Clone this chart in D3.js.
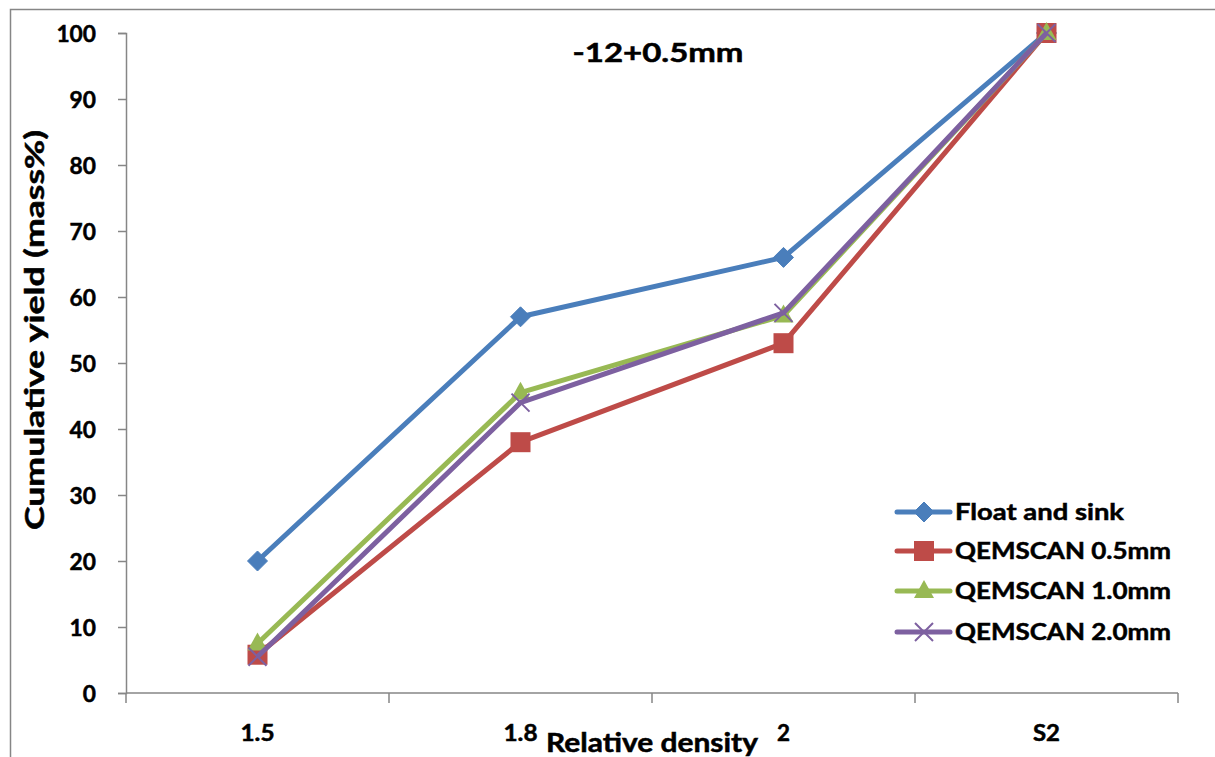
<!DOCTYPE html>
<html>
<head>
<meta charset="utf-8">
<script src="https://cdn.jsdelivr.net/npm/d3@7"></script>
<style>
  html, body { margin: 0; padding: 0; background: #fff; }
  svg { display: block; }
  text { font-family: Lato, "Open Sans", "DejaVu Sans", sans-serif; font-weight: bold; fill: #000; stroke: #000; stroke-width: 0.5px; }
</style>
</head>
<body>
<svg id="chart" width="1215" height="757"></svg>
<script>
// Relative density classes (x categories)
const categories = ["1.5", "1.8", "2", "S2"];

// Cumulative yield (mass%) per series
const floatSink  = [20, 57, 66, 100];
const qem05      = [5.8, 38, 53, 100];
const qem10      = [7.5, 45.5, 57.2, 100];
const qem20      = [5.5, 44, 57.6, 100];

const seriesNames = ["Float and sink", "QEMSCAN 0.5mm", "QEMSCAN 1.0mm", "QEMSCAN 2.0mm"];
const yTicks = [0, 10, 20, 30, 40, 50, 60, 70, 80, 90, 100];

const chartTitle = "-12+0.5mm";
const xTitle = "Relative density";
const yTitle = "Cumulative yield (mass%)";

const series = [
  { name: seriesNames[0], values: floatSink, color: "#4A7EBB", marker: "diamond" },
  { name: seriesNames[1], values: qem05,     color: "#BE4B48", marker: "square" },
  { name: seriesNames[2], values: qem10,     color: "#98B954", marker: "triangle" },
  { name: seriesNames[3], values: qem20,     color: "#7D60A0", marker: "cross" }
];

const svg = d3.select("#chart");
const axisColor = "#868686";

// outer chart-area border (extends past the right and bottom edges)
svg.append("rect")
  .attr("x", 10.5).attr("y", 9.5)
  .attr("width", 1240).attr("height", 780)
  .attr("fill", "none").attr("stroke", axisColor).attr("stroke-width", 1.5);

const plot = { left: 126, right: 1178, top: 33, bottom: 693 };

const x = d3.scaleBand().domain(categories).range([plot.left, plot.right]);
const y = d3.scaleLinear().domain([0, 100]).range([plot.bottom, plot.top]);

// stretch a text element to a given rendered width
function fitWidth(sel, w) {
  sel.attr("textLength", w).attr("lengthAdjust", "spacingAndGlyphs");
}

// Y axis
const yAxis = svg.append("g")
  .attr("transform", `translate(${plot.left},0)`)
  .call(d3.axisLeft(y).tickValues(yTicks).tickSize(8).tickPadding(22));
yAxis.select(".domain").attr("stroke", axisColor).attr("stroke-width", 1.5);
yAxis.selectAll(".tick line").attr("stroke", axisColor).attr("stroke-width", 1.5);
yAxis.selectAll(".tick text")
  .style("font-family", "Lato, 'Open Sans', sans-serif")
  .style("font-weight", "bold")
  .attr("font-size", 23)
  .attr("fill", "#000")
  .attr("dy", "0.36em")
  .each(function () {
    const n = this.textContent.length;
    d3.select(this).call(fitWidth, n * 13.2);
  });

// X axis: ticks at band boundaries, labels at band centres
const xAxisG = svg.append("g").attr("transform", `translate(0,${plot.bottom})`);
xAxisG.append("line")
  .attr("x1", plot.left).attr("x2", plot.right)
  .attr("stroke", axisColor).attr("stroke-width", 1.5);
const bounds = categories.map(c => x(c)).concat([plot.right]);
xAxisG.selectAll("line.tick").data(bounds).enter().append("line")
  .attr("class", "tick")
  .attr("x1", d => d).attr("x2", d => d)
  .attr("y1", 0).attr("y2", 10)
  .attr("stroke", axisColor).attr("stroke-width", 1.5);
const xLabelWidths = { "1.5": 34, "1.8": 34, "2": 13, "S2": 27 };
xAxisG.selectAll("text").data(categories).enter().append("text")
  .attr("x", d => x(d) + x.bandwidth() / 2)
  .attr("y", 48)
  .attr("text-anchor", "middle")
  .attr("font-size", 22)
  .text(d => d)
  .each(function (d) { d3.select(this).call(fitWidth, xLabelWidths[d]); });

// axis titles
svg.append("text")
  .attr("x", 652).attr("y", 752)
  .attr("text-anchor", "middle")
  .attr("font-size", 26)
  .text(xTitle)
  .call(fitWidth, 212);

svg.append("text")
  .attr("transform", "translate(44,330) rotate(-90)")
  .attr("text-anchor", "middle")
  .attr("font-size", 26)
  .text(yTitle)
  .call(fitWidth, 400);

// chart title
svg.append("text")
  .attr("x", 658).attr("y", 62)
  .attr("text-anchor", "middle")
  .attr("font-size", 27)
  .text(chartTitle)
  .call(fitWidth, 171);

// marker drawing
function drawMarker(g, type, color) {
  if (type === "diamond") {
    g.append("path").attr("d", "M0,-10 L10,0 L0,10 L-10,0 Z")
      .attr("fill", color).attr("stroke", color).attr("stroke-width", 1);
  } else if (type === "square") {
    g.append("rect").attr("x", -10).attr("y", -10).attr("width", 20).attr("height", 20)
      .attr("fill", color);
  } else if (type === "triangle") {
    g.append("path").attr("d", "M0,-11 L10,7 L-10,7 Z").attr("fill", color);
  } else if (type === "cross") {
    g.append("path").attr("d", "M-9,-9 L9,9 M-9,9 L9,-9")
      .attr("stroke", color).attr("stroke-width", 2).attr("fill", "none");
  }
}

const line = d3.line()
  .x((d, i) => x(categories[i]) + x.bandwidth() / 2)
  .y(d => y(d));

series.forEach(s => {
  const g = svg.append("g");
  g.append("path")
    .datum(s.values)
    .attr("d", line)
    .attr("fill", "none")
    .attr("stroke", s.color)
    .attr("stroke-width", 5)
    .attr("stroke-linejoin", "round");
  s.values.forEach((v, i) => {
    const m = g.append("g")
      .attr("transform", `translate(${x(categories[i]) + x.bandwidth() / 2},${y(v)})`);
    drawMarker(m, s.marker, s.color);
  });
});

// legend
const legendRows = [512, 551, 591, 632];
const legendWidths = [169, 216, 216, 216];
series.forEach((s, i) => {
  const g = svg.append("g").attr("transform", `translate(0,${legendRows[i]})`);
  g.append("line")
    .attr("x1", 897).attr("x2", 950)
    .attr("stroke", s.color).attr("stroke-width", 5).attr("stroke-linecap", "round");
  const m = g.append("g").attr("transform", "translate(924,0)");
  drawMarker(m, s.marker, s.color);
  g.append("text")
    .attr("x", 955).attr("y", 8)
    .attr("font-size", 23)
    .text(s.name)
    .call(fitWidth, legendWidths[i]);
});
</script>
</body>
</html>
